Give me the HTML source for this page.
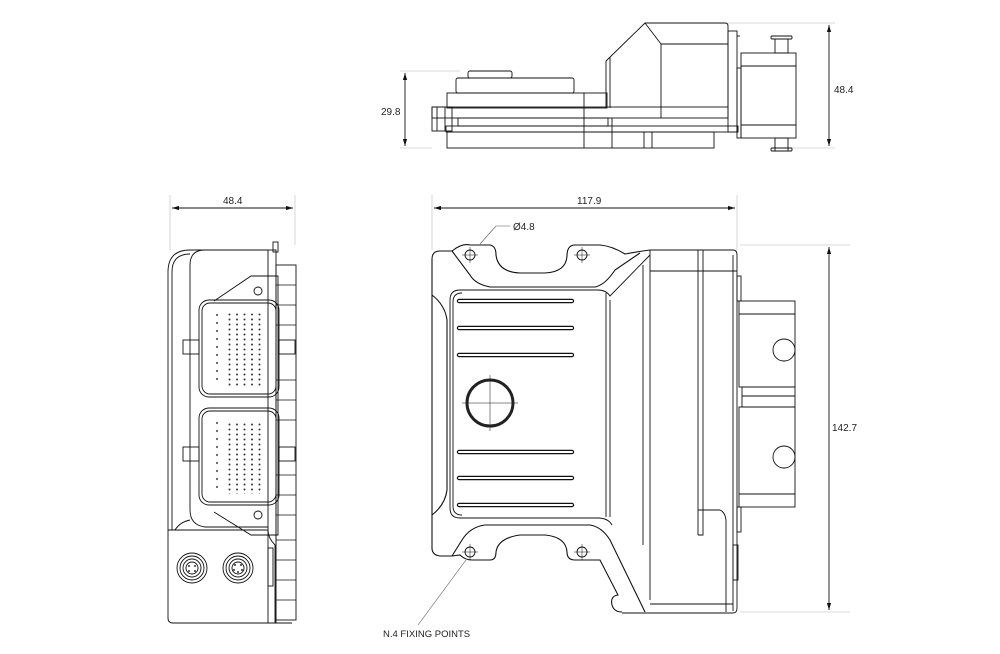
<!DOCTYPE html>
<html><head><meta charset="utf-8"><style>
html,body{margin:0;padding:0;background:#fff}
svg{display:block}
text{font-family:"Liberation Sans",sans-serif;font-size:10px;fill:#222}
</style></head><body>
<svg width="1000" height="654" viewBox="0 0 1000 654" xmlns="http://www.w3.org/2000/svg">
<defs>
<pattern id="dots" x="228" y="313" width="7.5" height="5" patternUnits="userSpaceOnUse">
<circle cx="1.5" cy="1.5" r="1" fill="#333"/>
</pattern>
<marker id="ar" viewBox="0 0 10 10" refX="10" refY="5" markerWidth="8" markerHeight="8" orient="auto-start-reverse"><path d="M0,2 L10,5 L0,8 z" fill="#111"/></marker>
</defs>
<g fill="none" stroke="#ccc" stroke-width="0.8">
<line x1="400" y1="71" x2="460" y2="71"/><line x1="400" y1="148" x2="432" y2="148"/>
<line x1="727" y1="23" x2="835" y2="23"/><line x1="790" y1="148" x2="835" y2="148"/>
<line x1="170" y1="195" x2="170" y2="250"/><line x1="295" y1="195" x2="295" y2="245"/>
<line x1="432" y1="195" x2="432" y2="250"/><line x1="737" y1="195" x2="737" y2="250"/>
<line x1="740" y1="245" x2="850" y2="245"/><line x1="740" y1="612" x2="850" y2="612"/>
</g>
<g stroke="#111" stroke-width="0.9" fill="none">
<line x1="405" y1="73" x2="405" y2="146" marker-start="url(#ar)" marker-end="url(#ar)"/>
<line x1="829" y1="25" x2="829" y2="146" marker-start="url(#ar)" marker-end="url(#ar)"/>
<line x1="172" y1="208" x2="293" y2="208" marker-start="url(#ar)" marker-end="url(#ar)"/>
<line x1="434" y1="208" x2="735" y2="208" marker-start="url(#ar)" marker-end="url(#ar)"/>
<line x1="829" y1="247" x2="829" y2="610" marker-start="url(#ar)" marker-end="url(#ar)"/>
<polyline points="480,244 496,226 510,226" stroke="#555" stroke-width="0.6"/>
<line x1="466" y1="560" x2="418" y2="625" stroke="#555" stroke-width="0.6"/>
</g>
<text x="381" y="115">29.8</text>
<text x="834" y="93">48.4</text>
<text x="223" y="204">48.4</text>
<text x="577" y="204">117.9</text>
<text x="513" y="230">Ø4.8</text>
<text x="832" y="431">142.7</text>
<text x="383" y="637" style="font-size:9.5px">N.4 FIXING POINTS</text>

<!-- TOP VIEW -->
<g stroke="#111" stroke-width="0.9" fill="none">
<rect x="468" y="71" width="44" height="7" rx="2"/>
<rect x="456" y="78" width="118" height="15" rx="2"/>
<rect x="447" y="93" width="160" height="15"/>
<path d="M606,108 V61 L645,23 H725 Q728,23 728,26 V118"/>
<path d="M645,23 L661,44 V118 M661,44 H728"/>
<line x1="610" y1="57" x2="610" y2="108"/>
<rect x="432" y="107" width="296" height="11"/>
<rect x="432" y="107" width="20" height="24"/>
<line x1="437" y1="107" x2="437" y2="131"/><line x1="445" y1="107" x2="445" y2="131"/>
<rect x="458" y="118" width="150" height="8"/>
<rect x="446" y="126" width="292" height="6"/>
<rect x="447" y="132" width="267" height="16"/>
<line x1="584" y1="93" x2="584" y2="148"/><line x1="612" y1="118" x2="612" y2="148"/>
<line x1="644" y1="132" x2="644" y2="148"/><line x1="652" y1="132" x2="652" y2="148"/>
<rect x="728" y="31" width="9" height="101"/>
<line x1="737" y1="36" x2="740" y2="36"/><rect x="737" y="68" width="4" height="70"/>
<rect x="741" y="53" width="55" height="85"/>
<line x1="741" y1="66" x2="796" y2="66"/><line x1="741" y1="125" x2="796" y2="125"/>
<rect x="775" y="39" width="13" height="14"/><rect x="771" y="36" width="21" height="3" rx="1"/>
<rect x="775" y="138" width="13" height="13"/><rect x="771" y="148" width="21" height="3" rx="1"/>
</g>

<!-- SIDE VIEW -->
<g stroke="#111" stroke-width="0.9" fill="none">
<path d="M268,250 H190 Q168,250 168,272 V618 Q168,623 173,623 H292"/>
<path d="M172,272 Q172,254 190,254"/>
<line x1="172" y1="272" x2="172" y2="530"/>
<path d="M268,250 H205 Q190,250 190,265 V510 Q190,525 205,527 L268,527"/>
<path d="M175,530 Q180,522 190,520"/>
<line x1="168" y1="530" x2="268" y2="530"/>
<path d="M268,530 Q268,538 275,545 V623"/>
<rect x="268" y="250" width="8" height="373"/>
<rect x="273" y="242" width="5" height="10"/>
<rect x="276" y="265" width="20" height="355"/>
<g stroke-width="0.7">
<line x1="276" y1="285" x2="296" y2="285"/><line x1="276" y1="305" x2="296" y2="305"/><line x1="276" y1="325" x2="296" y2="325"/>
<line x1="276" y1="380" x2="296" y2="380"/><line x1="276" y1="400" x2="296" y2="400"/><line x1="276" y1="420" x2="296" y2="420"/>
<line x1="276" y1="475" x2="296" y2="475"/><line x1="276" y1="495" x2="296" y2="495"/><line x1="276" y1="515" x2="296" y2="515"/>
<line x1="276" y1="540" x2="296" y2="540"/><line x1="276" y1="560" x2="296" y2="560"/><line x1="276" y1="580" x2="296" y2="580"/><line x1="276" y1="600" x2="296" y2="600"/>
</g>
<path d="M214,301 L251,276 H278 V535 H251 L214,512"/>
<rect x="199" y="300" width="80" height="97" rx="10"/>
<rect x="202" y="303" width="74" height="91" rx="8"/>
<rect x="199" y="408" width="80" height="97" rx="10"/>
<rect x="202" y="411" width="74" height="91" rx="8"/>
<rect x="183" y="340" width="16" height="14"/><rect x="279" y="340" width="16" height="14"/>
<rect x="183" y="447" width="16" height="14"/><rect x="279" y="447" width="16" height="14"/>
<circle cx="258" cy="291" r="4"/><circle cx="258" cy="515" r="4"/>
<rect x="268" y="548" width="5" height="38"/>
<circle cx="192" cy="568" r="15"/><circle cx="192" cy="568" r="12"/><circle cx="192" cy="568" r="9"/><circle cx="192" cy="568" r="6"/>
<circle cx="238" cy="568" r="15"/><circle cx="238" cy="568" r="12"/><circle cx="238" cy="568" r="9"/><circle cx="238" cy="568" r="6"/>
</g>
<g fill="#333">
<circle cx="189" cy="566" r="1"/><circle cx="195" cy="566" r="1"/><circle cx="189" cy="571" r="1"/><circle cx="195" cy="571" r="1"/>
<circle cx="235" cy="565" r="1"/><circle cx="241" cy="565" r="1"/><circle cx="234" cy="570" r="1"/><circle cx="242" cy="570" r="1"/><circle cx="238" cy="572" r="1"/>
</g>
<rect x="228" y="313" width="38" height="73" fill="url(#dots)"/>
<rect x="228" y="421" width="38" height="73" fill="url(#dots)"/>
<g stroke="#333" stroke-width="1.4">
<path d="M217,314 v2 M217,322 v2 M217,330 v2 M217,338 v2 M217,346 v2 M217,354 v2 M217,362 v2 M217,370 v2 M217,378 v2"/>
<path d="M217,422 v2 M217,430 v2 M217,438 v2 M217,446 v2 M217,454 v2 M217,462 v2 M217,470 v2 M217,478 v2 M217,486 v2"/>
</g>

<!-- FRONT VIEW -->
<g stroke="#111" stroke-width="1.1" fill="none">
<path d="M440,251 H452 Q462,243 470,245 H490 Q496,246 496,255 Q498,272 520,273 H545 Q566,272 567,256 Q567,245 575,245 H600 Q612,246 625,254 Q635,252 650,250 M440,251 Q432,251 432,259 V548 Q432,555 440,556 H452 L460,555 Q465,560 472,560 H490 Q496,560 496,552 Q498,538 520,535 H545 Q566,537 567,552 Q567,560 575,560 H600 L618,595 Q610,596 612,605 Q614,612 622,612"/>
<path d="M452,251 L470,275 Q475,284 490,287 H595 Q605,285 615,270 L640,253"/>
<path d="M432,295 Q445,305 447,320 V490 Q445,505 432,515"/>
<path d="M452,556 L462,540 Q470,527 485,525 H590 Q602,527 610,540 L645,612"/>
</g>
<g stroke="#111" stroke-width="0.9" fill="none">
<path d="M460,290 H598 Q606,290 610,296 L650,255"/>
<path d="M610,300 V517 M460,290 Q450,290 450,300 V508 Q450,518 460,518 H598 Q608,518 612,525"/>
<path d="M462,293 Q453,293 453,302 V506 Q453,515 462,515"/>
<line x1="606" y1="293" x2="606" y2="517"/>
<path d="M650,250 H733 Q737,250 737,255 V608 Q737,613 733,613 H622"/>
<line x1="643" y1="265" x2="643" y2="545"/>
<line x1="650" y1="250" x2="650" y2="600"/>
<line x1="698" y1="250" x2="698" y2="535"/>
<line x1="703" y1="250" x2="703" y2="510"/>
<line x1="650" y1="271" x2="737" y2="271"/>
<line x1="733" y1="255" x2="733" y2="611"/>
<path d="M698,510 H720 Q725,512 726,520 V612 M698,535 H703 L703,510"/>
<line x1="650" y1="604" x2="733" y2="604"/>
<rect x="733" y="545" width="5" height="35"/>
<rect x="737" y="276" width="4" height="25"/><rect x="737" y="507" width="4" height="25"/>
<rect x="739" y="301" width="56" height="86"/><line x1="739" y1="314" x2="795" y2="314"/>
<rect x="739" y="407" width="56" height="100"/><line x1="739" y1="494" x2="795" y2="494"/>
<rect x="742" y="387" width="53" height="20"/><line x1="742" y1="396" x2="795" y2="396"/>
<circle cx="784" cy="350" r="11"/><circle cx="784" cy="457" r="11"/>
<circle cx="470" cy="255" r="5"/><circle cx="582" cy="255" r="5"/>
<circle cx="470" cy="552" r="5"/><circle cx="582" cy="552" r="5"/>
</g>
<g stroke="#111" stroke-width="0.5">
<path d="M462,255h16M470,247v16M574,255h16M582,247v16M462,552h16M470,544v16M574,552h16M582,544v16"/>
<path d="M462,403h56M490,375v56"/>
</g>
<circle cx="490" cy="403" r="23" fill="none" stroke="#222" stroke-width="3"/>
<g stroke="#111" stroke-width="4.4" stroke-linecap="round"><path d="M459,301H572M459,328H572M459,355H572M459,452H572M459,478H572M459,505H572"/></g>
<g stroke="#fff" stroke-width="2" stroke-linecap="round"><path d="M459,301H572M459,328H572M459,355H572M459,452H572M459,478H572M459,505H572"/></g>
</svg>
</body></html>
